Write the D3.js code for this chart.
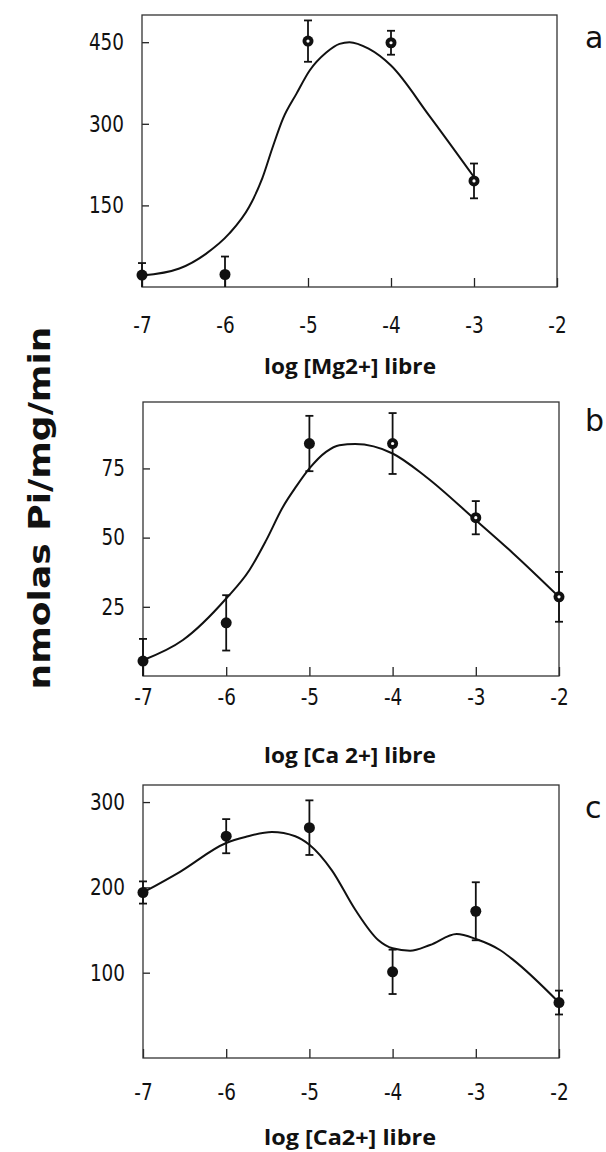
<!DOCTYPE html>
<html><head><meta charset="utf-8">
<script src="https://cdn.jsdelivr.net/npm/d3@7"></script>
<style>
body{margin:0;background:#fff}
svg{display:block}
.tick text{font-family:"DejaVu Sans",sans-serif;font-size:23px;fill:#111}
.titre{font-family:"Open Sans",sans-serif;font-weight:bold;fill:#111}
</style></head><body>
<svg id="chart" width="606" height="1152"></svg>
<script>
// valeurs
const xTicks = [-7, -6, -5, -4, -3, -2]

// panneau a : Mg2+
const xA = [-7, -6, -5, -4, -3]
const yA = [22, 23, 452, 449, 195]
const errA = [22, 33, 38, 22, 32]
const curveXA = [-7, -6.55, -6.23, -5.95, -5.71, -5.55, -5.43, -5.3, -5.14, -4.98, -4.78, -4.62, -4.5, -4.27, -4, -3.54, -3]
const curveYA = [21, 34, 61, 98, 147, 200, 255, 310, 355, 398, 431, 447, 450, 438, 407, 315, 202]
const yTicksA = [150, 300, 450]

// panneau b : Ca 2+
const xB = [-7, -6, -5, -4, -3, -2]
const yB = [5.4, 19.2, 84, 84, 57.2, 28.6]
const errB = [8, 10, 10, 11, 6, 9]
const curveXB = [-7, -6.52, -6, -5.72, -5.52, -5.32, -5.16, -5, -4.8, -4.64, -4.45, -4, -3.6, -3, -2.55, -2]
const curveYB = [5.7, 13, 28, 38.3, 49, 61, 68.4, 75, 81, 83.4, 83.8, 80.4, 72, 56.3, 44.3, 28.6]
const yTicksB = [25, 50, 75]

// panneau c : Ca2+
const xC = [-7, -6, -5, -4, -3, -2]
const yC = [194, 260, 270, 101, 172, 65]
const errC = [13, 20, 32, 26, 34, 14]
const curveXC = [-7, -6.56, -6, -5.77, -5.45, -5.17, -5, -4.73, -4.45, -4.17, -4, -3.79, -3.55, -3.23, -2.99, -2.71, -2.55, -2]
const curveYC = [194, 218, 252, 259, 265, 260, 250, 220, 174, 138, 128.6, 125.8, 132.5, 145.4, 139.2, 126.6, 115, 65]
const yTicksC = [100, 200, 300]

// points dessinés avec un petit centre blanc
const creuxA = [-5, -4, -3]
const creuxB = [-4, -3, -2]
const creuxC = []

const svg = d3.select("#chart")

const panneaux = [
  {xs: xA, ys: yA, errs: errA, cx: curveXA, cy: curveYA, ticks: yTicksA, max: 500, creux: creuxA,
   left: 142, right: 557, top: 15, bottom: 287, pad: 30, lettre: "a", lettreY: 48,
   titre: "log [Mg2+] libre", titreY: 374},
  {xs: xB, ys: yB, errs: errB, cx: curveXB, cy: curveYB, ticks: yTicksB, max: 99, creux: creuxB,
   left: 143, right: 559, top: 402, bottom: 676, pad: 13, lettre: "b", lettreY: 431,
   titre: "log [Ca 2+] libre", titreY: 763},
  {xs: xC, ys: yC, errs: errC, cx: curveXC, cy: curveYC, ticks: yTicksC, max: 320, creux: creuxC,
   left: 143, right: 559, top: 785, bottom: 1058, pad: 26, lettre: "c", lettreY: 818,
   titre: "log [Ca2+] libre", titreY: 1145}
]

// police étroite : on resserre les chiffres
function resserrer(sel){
  sel.selectAll(".tick text").each(function(){
    let l = this.getComputedTextLength()
    d3.select(this).attr("textLength", l * 0.8).attr("lengthAdjust", "spacingAndGlyphs")
  })
}

panneaux.forEach(function(p){
  let x = d3.scaleLinear().domain([-7, -2]).range([p.left, p.right])
  let y = d3.scaleLinear().domain([0, p.max]).range([p.bottom, p.top])
  let g = svg.append("g")

  // axes (graduations vers l'intérieur)
  g.append("g").attr("transform", "translate(" + p.left + ",0)")
    .call(d3.axisLeft(y).tickValues(p.ticks).tickSizeInner(-7).tickSizeOuter(0).tickPadding(18))
    .call(resserrer)
  g.append("g").attr("transform", "translate(0," + p.bottom + ")")
    .call(d3.axisBottom(x).tickValues(xTicks).tickSizeInner(-9).tickSizeOuter(0).tickPadding(p.pad)
      .tickFormat(function(d){ return String(d) }))
    .call(resserrer)
  g.selectAll(".domain").remove()
  g.selectAll(".tick line").attr("stroke", "#222").attr("stroke-width", 1.3)

  // cadre
  g.append("rect")
    .attr("x", p.left).attr("y", p.top)
    .attr("width", p.right - p.left).attr("height", p.bottom - p.top)
    .attr("fill", "none").attr("stroke", "#333").attr("stroke-width", 1.3)

  // courbe ajustée
  let ligne = d3.line()
    .x(function(d){ return x(d[0]) })
    .y(function(d){ return y(d[1]) })
    .curve(d3.curveMonotoneX)
  g.append("path")
    .datum(d3.zip(p.cx, p.cy))
    .attr("d", ligne)
    .attr("fill", "none").attr("stroke", "#111").attr("stroke-width", 2)

  // barres d'erreur
  let pts = d3.zip(p.xs, p.ys, p.errs)
  let barres = g.selectAll("g.barre").data(pts).enter().append("g").attr("class", "barre")
  barres.append("line")
    .attr("x1", function(d){ return x(d[0]) }).attr("x2", function(d){ return x(d[0]) })
    .attr("y1", function(d){ return y(d[1] + d[2]) })
    .attr("y2", function(d){ return y(Math.max(0, d[1] - d[2])) })
    .attr("stroke", "#111").attr("stroke-width", 1.8)
  barres.append("line")
    .attr("x1", function(d){ return x(d[0]) - 4 }).attr("x2", function(d){ return x(d[0]) + 4 })
    .attr("y1", function(d){ return y(d[1] + d[2]) }).attr("y2", function(d){ return y(d[1] + d[2]) })
    .attr("stroke", "#111").attr("stroke-width", 1.8)
  barres.filter(function(d){ return d[1] - d[2] > 0 }).append("line")
    .attr("x1", function(d){ return x(d[0]) - 4 }).attr("x2", function(d){ return x(d[0]) + 4 })
    .attr("y1", function(d){ return y(d[1] - d[2]) }).attr("y2", function(d){ return y(d[1] - d[2]) })
    .attr("stroke", "#111").attr("stroke-width", 1.8)

  // points
  g.selectAll("circle.pt").data(pts).enter().append("circle")
    .attr("class", "pt")
    .attr("cx", function(d){ return x(d[0]) })
    .attr("cy", function(d){ return y(d[1]) })
    .attr("r", 5.5)
    .attr("fill", "#111")
  g.selectAll("circle.centre").data(pts.filter(function(d){ return p.creux.indexOf(d[0]) >= 0 }))
    .enter().append("circle")
    .attr("class", "centre")
    .attr("cx", function(d){ return x(d[0]) })
    .attr("cy", function(d){ return y(d[1]) })
    .attr("r", 1.6)
    .attr("fill", "#fff")

  // lettre du panneau
  g.append("text")
    .attr("x", 585).attr("y", p.lettreY)
    .attr("font-family", "DejaVu Sans, sans-serif")
    .attr("font-size", "30px")
    .attr("fill", "#111")
    .text(p.lettre)

  // titre de l'axe x
  g.append("text")
    .attr("class", "titre")
    .attr("x", 350).attr("y", p.titreY)
    .attr("text-anchor", "middle")
    .attr("font-size", "21px")
    .attr("textLength", 172)
    .attr("lengthAdjust", "spacingAndGlyphs")
    .text(p.titre)
})

// titre de l'axe y
svg.append("text")
  .attr("transform", "translate(50,508) rotate(-90)")
  .attr("text-anchor", "middle")
  .attr("font-family", "DejaVu Sans, sans-serif")
  .attr("font-weight", "bold")
  .attr("font-size", "30px")
  .attr("fill", "#111")
  .attr("textLength", 363)
  .attr("lengthAdjust", "spacingAndGlyphs")
  .text("nmolas Pi/mg/min")
</script>
</body></html>
